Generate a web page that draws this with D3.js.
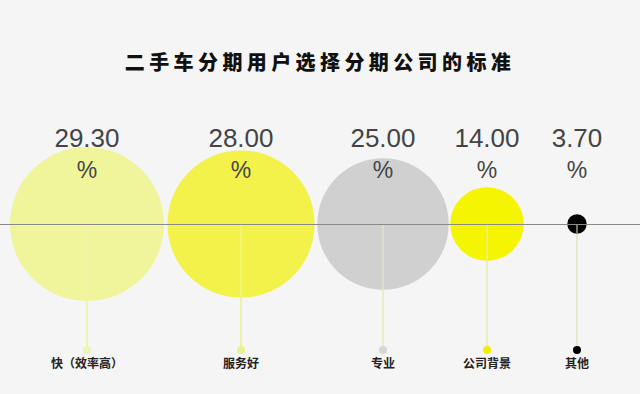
<!DOCTYPE html>
<html>
<head>
<meta charset="utf-8">
<script src="https://cdn.jsdelivr.net/npm/d3@7"></script>
<style>
  body { margin: 0; background: #f5f5f5; }
  svg { display: block; }
</style>
</head>
<body>
<div class="chart"></div>
<script>
// 数据
const categories = ["快（效率高）", "服务好", "专业", "公司背景", "其他"];
const values = [29.30, 28.00, 25.00, 14.00, 3.70];
const circleColors = ["#f0f59c", "#f3f24b", "#d0d0d0", "#f5f500", "#000000"];
const stemColors = ["#eef3b4", "#eef3a4", "#ececc6", "#ececc6", "#e8e8c8"];
const dotColors = ["#eef4b8", "#e8f290", "#d6d6d6", "#f0ef00", "#000000"];

const width = 640, height = 394;
const axisY = 224;   // 水平线位置
const dotY = 350;    // 底部小点位置

const svg = d3.select('.chart').append('svg')
    .attr('width', width).attr('height', height);

svg.append('rect').attr('width', width).attr('height', height).attr('fill', '#f5f5f5');

// 标题
svg.append('text')
    .attr('x', 320).attr('y', 70)
    .attr('text-anchor', 'middle')
    .style('font-family', '"Noto Sans CJK SC", sans-serif')
    .style('font-weight', 900)
    .style('font-size', '20px')
    .style('letter-spacing', '4.4px')
    .style('fill', '#111')
    .text('二手车分期用户选择分期公司的标准');

// 类别的横向位置（圆挨着排列，间距不均）
const x = d3.scaleOrdinal().domain(categories).range([87, 241, 383, 487, 577]);
// 半径与数值成正比
const r = d3.scaleLinear().domain([0, 29.3]).range([0, 77]);

const data = categories.map((c, i) => ({ name: c, value: values[i], i: i }));

// 竖线
svg.append('g').selectAll('line').data(data).join('line')
    .attr('x1', d => x(d.name)).attr('x2', d => x(d.name))
    .attr('y1', axisY).attr('y2', dotY)
    .attr('stroke', d => stemColors[d.i]).attr('stroke-width', 2);

// 圆
svg.append('g').selectAll('circle').data(data).join('circle')
    .attr('cx', d => x(d.name)).attr('cy', axisY)
    .attr('r', d => r(d.value))
    .attr('fill', d => circleColors[d.i]);

// 圆内竖线 (透过圆可见)
svg.append('g').selectAll('line').data(data).join('line')
    .attr('x1', d => x(d.name)).attr('x2', d => x(d.name))
    .attr('y1', axisY).attr('y2', d => axisY + r(d.value))
    .attr('stroke', d => stemColors[d.i]).attr('stroke-width', 2)
    .attr('stroke-opacity', 0.5);

// 水平线
svg.append('line')
    .attr('x1', 0).attr('x2', width)
    .attr('y1', axisY + 0.5).attr('y2', axisY + 0.5)
    .attr('stroke', '#8a8a8a').attr('stroke-width', 1);

// 底部小点
svg.append('g').selectAll('circle').data(data).join('circle')
    .attr('cx', d => x(d.name)).attr('cy', dotY)
    .attr('r', 4)
    .attr('fill', d => dotColors[d.i]);

// 类别标签
svg.append('g').selectAll('text').data(data).join('text')
    .attr('x', d => x(d.name)).attr('y', 368)
    .attr('text-anchor', 'middle')
    .style('font-family', '"Noto Sans CJK SC", sans-serif')
    .style('font-weight', 700)
    .style('font-size', '12px')
    .style('fill', '#222')
    .text(d => d.name);

// 数值标签
const valLabels = svg.append('g').selectAll('text').data(data).join('text')
    .attr('text-anchor', 'middle')
    .style('font-family', '"Liberation Sans", Arial, sans-serif')
    .style('fill', '#444');
valLabels.append('tspan')
    .attr('x', d => x(d.name)).attr('y', 147)
    .style('font-size', '26px')
    .text(d => d.value.toFixed(2));
valLabels.append('tspan')
    .attr('x', d => x(d.name)).attr('y', 178)
    .style('font-size', '23px')
    .text('%');
</script>
</body>
</html>
